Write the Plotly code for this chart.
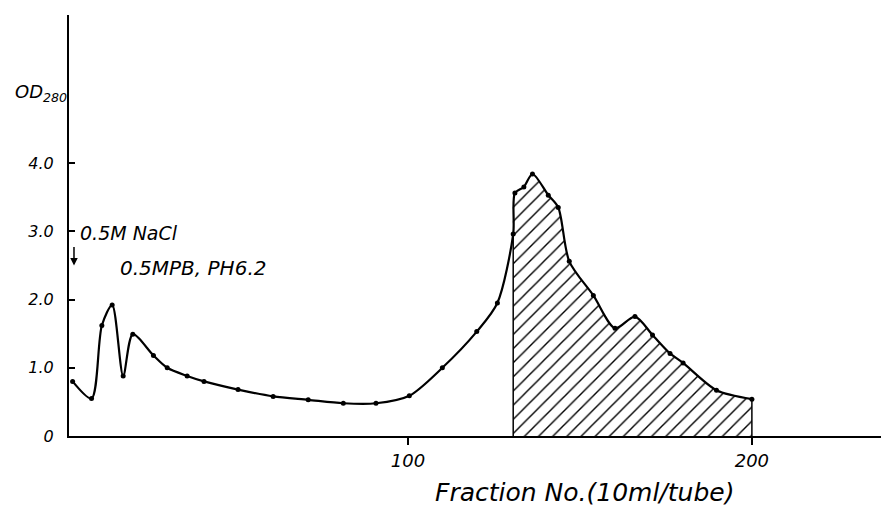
import plotly.graph_objects as go

# Fraction number and OD280
fraction = [2.5, 8, 11, 14, 17.2, 20, 26, 30, 35.8, 40.7, 50.6, 60.8, 71, 81.2, 90.7,
            100.4, 110, 120, 126, 130.6, 131.1, 133.7, 136.2, 140.8, 143.7, 146.9,
            153.9, 160.2, 166, 171.1, 176.2, 180, 189.7, 200]
od280 = [0.80, 0.55, 1.62, 1.92, 0.88, 1.49, 1.18, 1.00, 0.88, 0.80, 0.68, 0.58, 0.53, 0.48, 0.48,
         0.59, 1.00, 1.53, 1.95, 2.96, 3.56, 3.65, 3.84, 3.53, 3.35, 2.56,
         2.06, 1.58, 1.75, 1.48, 1.21, 1.07, 0.67, 0.54]

pool_start = 130.6
pool_end = 200

y_ticks = [0, 1, 2, 3, 4]
y_tick_labels = ["0", "1.0", "2.0", "3.0", "4.0"]
x_ticks = [100, 200]
x_tick_labels = ["100", "200"]

FONT = "DejaVu Sans"
SMOOTH = 0.8

pool_x = [x for x in fraction if pool_start <= x <= pool_end]
pool_y = [y for x, y in zip(fraction, od280) if pool_start <= x <= pool_end]

fig = go.Figure()

# hatched pooled area
fig.add_trace(go.Scatter(
    x=pool_x, y=pool_y, mode="lines", fill="tozeroy",
    line=dict(color="black", width=0, shape="spline", smoothing=SMOOTH),
    fillcolor="white",
    fillpattern=dict(shape="/", fgcolor="black", fgopacity=1, bgcolor="white",
                     size=10, solidity=0.14),
    hoverinfo="skip", showlegend=False,
))
# vertical edges of pooled area
for xe, ye in [(pool_x[0], pool_y[0]), (pool_x[-1], pool_y[-1])]:
    fig.add_trace(go.Scatter(x=[xe, xe], y=[0, ye], mode="lines",
                             line=dict(color="black", width=1.5),
                             hoverinfo="skip", showlegend=False))

# elution profile
fig.add_trace(go.Scatter(
    x=fraction, y=od280, mode="lines+markers",
    line=dict(color="black", width=2.2, shape="spline", smoothing=SMOOTH),
    marker=dict(color="black", size=5),
    showlegend=False,
))

fig.update_layout(
    width=889, height=513,
    margin=dict(l=61, r=12, t=7, b=85),
    paper_bgcolor="white", plot_bgcolor="white",
    font=dict(family=FONT, color="black"),
    xaxis=dict(range=[1.45, 238.7], showgrid=False, zeroline=False,
               showline=True, linecolor="black", linewidth=2,
               ticks="outside", ticklen=7, tickwidth=1.5, tickcolor="black",
               tickvals=x_ticks, ticktext=x_tick_labels, ticklabelstandoff=0,
               tickfont=dict(size=18, style="italic", family=FONT)),
    yaxis=dict(range=[0, 6.17], showgrid=False, zeroline=False,
               showline=True, linecolor="black", linewidth=2,
               ticks="inside", ticklen=6, tickwidth=1.5, tickcolor="black",
               tickvals=y_ticks, ticktext=y_tick_labels, ticklabelstandoff=10,
               tickfont=dict(size=16, style="italic", family=FONT)),
)

fig.add_annotation(x=0.632, y=-0.135, xref="paper", yref="paper",
                   text="Fraction No.(10ml/tube)", showarrow=False,
                   font=dict(size=25, style="italic"), xanchor="center", yanchor="middle")
fig.add_annotation(x=-0.034, y=0.815, xref="paper", yref="paper", text="OD<sub>280</sub>",
                   showarrow=False, font=dict(size=18, style="italic"),
                   xanchor="center", yanchor="middle")
fig.add_annotation(x=4.1, y=2.97, xref="x", yref="y", text="0.5M NaCl",
                   showarrow=False, font=dict(size=19, style="italic"), xanchor="left")
fig.add_annotation(x=2.9, y=2.5, xref="x", yref="y", text="", showarrow=True,
                   ax=0, ay=-20, arrowhead=2, arrowsize=1, arrowwidth=1.5, arrowcolor="black")
fig.add_annotation(x=15.7, y=2.46, xref="x", yref="y", text="0.5MPB, PH6.2",
                   showarrow=False, font=dict(size=20, style="italic"), xanchor="left")

fig.write_html("out.html")
